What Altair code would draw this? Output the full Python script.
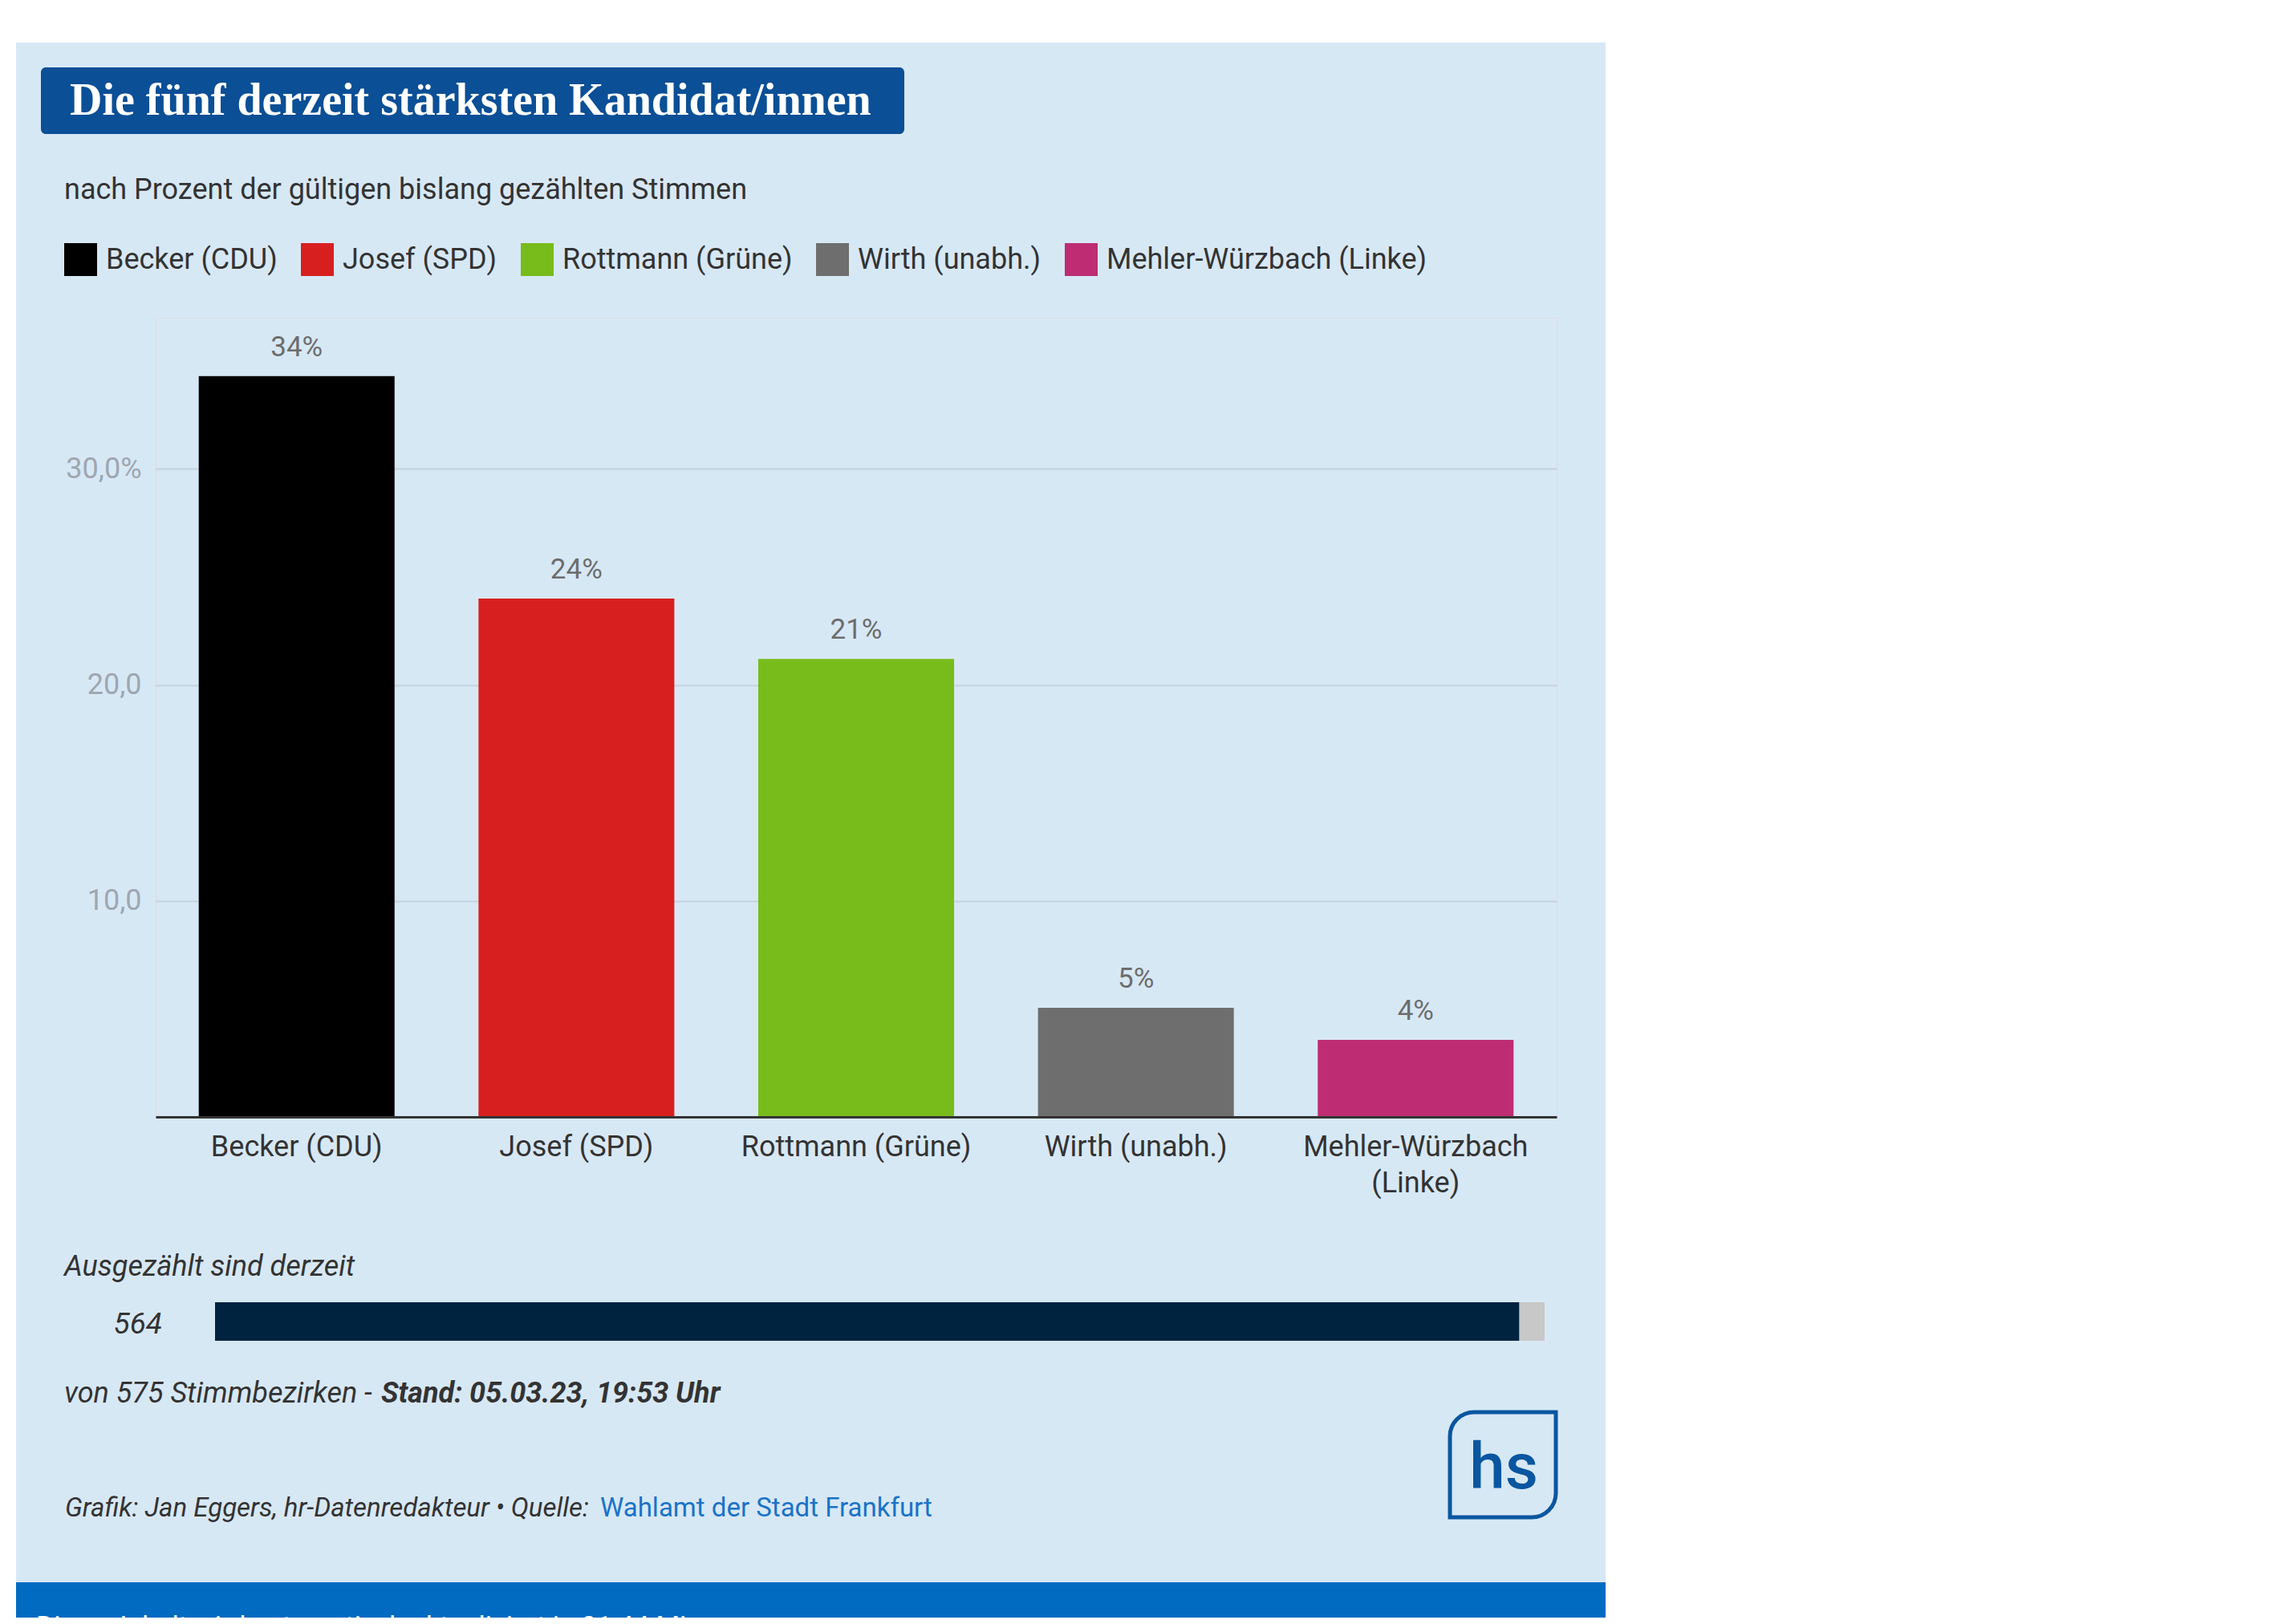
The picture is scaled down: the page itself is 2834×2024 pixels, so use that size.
import altair as alt
import pandas as pd

# ---------------- data ----------------
candidates = ["Becker (CDU)", "Josef (SPD)", "Rottmann (Grüne)", "Wirth (unabh.)", "Mehler-Würzbach (Linke)"]
shares = [34.3, 24.0, 21.2, 5.05, 3.57]
bar_colors = ["#000000", "#d81f20", "#78bc1b", "#6e6e6e", "#be2d73"]
y_ticks = [10, 20, 30]

counted_districts = 564
total_districts = 575

title_text = "Die fünf derzeit stärksten Kandidat/innen"
subtitle_text = "nach Prozent der gültigen bislang gezählten Stimmen"
counted_label = "Ausgezählt sind derzeit"
of_text = "von 575 Stimmbezirken - "
stand_text = "Stand: 05.03.23, 19:53 Uhr"
credit_text = "Grafik: Jan Eggers, hr-Datenredakteur • Quelle: "
source_text = "Wahlamt der Stadt Frankfurt"
footer_text = "Dieser Inhalt wird automatisch aktualisiert in 01:44 Min."

df = pd.DataFrame({"candidate": candidates, "share": shares})
progress = pd.DataFrame({"start": [0], "end": [counted_districts]})
remaining = pd.DataFrame({"start": [counted_districts], "end": [total_districts]})
one = pd.DataFrame({"a": [0]})

W, H = 1746, 996
PAD_L, PAD_T, PAD_R, PAD_B = 186, 388, 61, 624
FONT = "Roboto"
PANEL = "#d7e8f5"
TXT = "#333333"

# ---------------- decorative layers ----------------
# chart background is the panel colour; white strips reproduce the page margin above / left
top_strip = alt.Chart(one).mark_rect(color="white").encode(
    x=alt.value(-PAD_L), x2=alt.value(W + PAD_R), y=alt.value(-PAD_T), y2=alt.value(-343)
)
left_strip = alt.Chart(one).mark_rect(color="white").encode(
    x=alt.value(-PAD_L), x2=alt.value(-174), y=alt.value(-PAD_T), y2=alt.value(H + PAD_B)
)
title_box = alt.Chart(one).mark_rect(color="#0b4f96", cornerRadius=6).encode(
    x=alt.value(-143), x2=alt.value(933), y=alt.value(-312), y2=alt.value(-229)
)
title = alt.Chart(one).mark_text(
    text=title_text, font="Liberation Serif", fontWeight="bold", fontSize=56,
    color="white", align="left", baseline="alphabetic"
).encode(x=alt.value(-107), y=alt.value(-253))
subtitle = alt.Chart(one).mark_text(
    text=subtitle_text, font=FONT, fontSize=36, color=TXT,
    align="left", baseline="alphabetic"
).encode(x=alt.value(-114), y=alt.value(-148))

footer_band = alt.Chart(one).mark_rect(color="#006bc1").encode(
    x=alt.value(-174), x2=alt.value(W + PAD_R), y=alt.value(1576), y2=alt.value(H + PAD_B)
)
footer = alt.Chart(one).mark_text(
    text=footer_text, font=FONT, fontSize=34, color="white",
    align="left", baseline="alphabetic"
).encode(x=alt.value(-149), y=alt.value(1642))

# ---------------- main bar chart ----------------
xscale = alt.Scale(domain=candidates, paddingInner=0.3, paddingOuter=0.154)
yscale = alt.Scale(domain=[0, 37], nice=False)
x_axis = alt.Axis(title=None, labelAngle=0, ticks=False, domainColor=TXT,
                  domainWidth=3, labelFont=FONT, labelFontSize=36,
                  labelColor=TXT, labelPadding=20, labelLineHeight=45,
                  grid=False, labelLimit=0, zindex=1,
                  labelExpr="datum.value == 'Mehler-Würzbach (Linke)' ? ['Mehler-Würzbach', '(Linke)'] : datum.label")
y_axis = alt.Axis(title=None, values=y_ticks, domain=False, ticks=False,
                  labelFont=FONT, labelFontSize=36, labelColor="#9ea7b0",
                  labelPadding=18, grid=True, gridColor="#c3d2de", gridWidth=2, zindex=0,
                  labelExpr="datum.value == 30 ? '30,0%' : replace(format(datum.value, '.1f'), '.', ',')")

bars = alt.Chart(df).mark_bar().encode(
    x=alt.X("candidate:N", sort=candidates, scale=xscale, axis=x_axis),
    y=alt.Y("share:Q", scale=yscale, axis=y_axis),
    color=alt.Color("candidate:N", sort=candidates,
                    scale=alt.Scale(domain=candidates, range=bar_colors),
                    legend=alt.Legend(title=None, orient="none", legendX=-114, legendY=-93,
                                      direction="horizontal", symbolType="square",
                                      symbolSize=1681, symbolStrokeWidth=0,
                                      labelFont=FONT, labelFontSize=36, labelColor=TXT,
                                      labelOffset=11, columnPadding=29, padding=0,
                                      labelLimit=0, symbolOpacity=1)),
)
labels = alt.Chart(df).transform_calculate(
    lbl="format(round(datum.share), 'd') + '%'"
).mark_text(font=FONT, fontSize=35, color="#6d6d6d", baseline="alphabetic", dy=-25).encode(
    x=alt.X("candidate:N", sort=candidates, scale=xscale, axis=x_axis),
    y=alt.Y("share:Q", scale=yscale, axis=y_axis),
    text="lbl:N",
)
main = alt.layer(bars, labels)

# ---------------- progress bar ----------------
pscale = alt.Scale(domain=[0, total_districts], range=[74, 1731], nice=False, zero=True)
done_bar = alt.Chart(progress).mark_rect(color="#00233f").encode(
    x=alt.X("start:Q", scale=pscale, axis=None), x2="end:Q",
    y=alt.value(1227), y2=alt.value(1275),
)
rest_bar = alt.Chart(remaining).mark_rect(color="#c8c8c8").encode(
    x=alt.X("start:Q", scale=pscale, axis=None), x2="end:Q",
    y=alt.value(1227), y2=alt.value(1275),
)
prog = alt.layer(rest_bar, done_bar)

counted_title = alt.Chart(one).mark_text(
    text=counted_label, font=FONT, fontSize=36, fontStyle="italic", color=TXT,
    align="left", baseline="alphabetic"
).encode(x=alt.value(-114), y=alt.value(1194))
counted_num = alt.Chart(progress).mark_text(
    font=FONT, fontSize=37, fontStyle="italic", color=TXT,
    align="right", baseline="alphabetic"
).encode(x=alt.value(8), y=alt.value(1266), text="end:Q")
of_line = alt.Chart(one).mark_text(
    text=of_text, font=FONT, fontSize=36, fontStyle="italic", color=TXT,
    align="left", baseline="alphabetic"
).encode(x=alt.value(-114), y=alt.value(1352))
stand_line = alt.Chart(one).mark_text(
    text=stand_text, font=FONT, fontSize=36, fontStyle="italic", fontWeight="bold",
    color=TXT, align="left", baseline="alphabetic"
).encode(x=alt.value(281), y=alt.value(1352))

credit = alt.Chart(one).mark_text(
    text=credit_text, font=FONT, fontSize=33, fontStyle="italic", color=TXT,
    align="left", baseline="alphabetic"
).encode(x=alt.value(-113), y=alt.value(1494))
source = alt.Chart(one).mark_text(
    text=source_text, font=FONT, fontSize=33, color="#1a73c7",
    align="left", baseline="alphabetic"
).encode(x=alt.value(554), y=alt.value(1494))

logo_box = alt.Chart(one).mark_rect(
    fill=None, stroke="#0a56a0", strokeWidth=5,
    cornerRadiusTopLeft=30, cornerRadiusBottomRight=30
).encode(x=alt.value(1613), x2=alt.value(1745), y=alt.value(1364), y2=alt.value(1495))
logo_text = alt.Chart(one).mark_text(
    text="hs", font=FONT, fontSize=80, fontWeight=500, color="#0a56a0",
    align="center", baseline="alphabetic"
).encode(x=alt.value(1680), y=alt.value(1459))

chart = alt.layer(
    top_strip, left_strip, title_box, title, subtitle, footer_band, footer,
    main, prog, counted_title, counted_num, of_line, stand_line,
    credit, source, logo_box, logo_text,
).resolve_scale(x="independent", y="independent", color="independent").properties(
    width=W, height=H,
    padding={"left": PAD_L, "top": PAD_T, "right": PAD_R, "bottom": PAD_B},
    autosize=alt.AutoSizeParams(type="none"),
    background=PANEL,
).configure_view(stroke=None, fill=PANEL).configure(font=FONT)

chart.save("out.html", embed_options={"renderer": "svg", "actions": False})
